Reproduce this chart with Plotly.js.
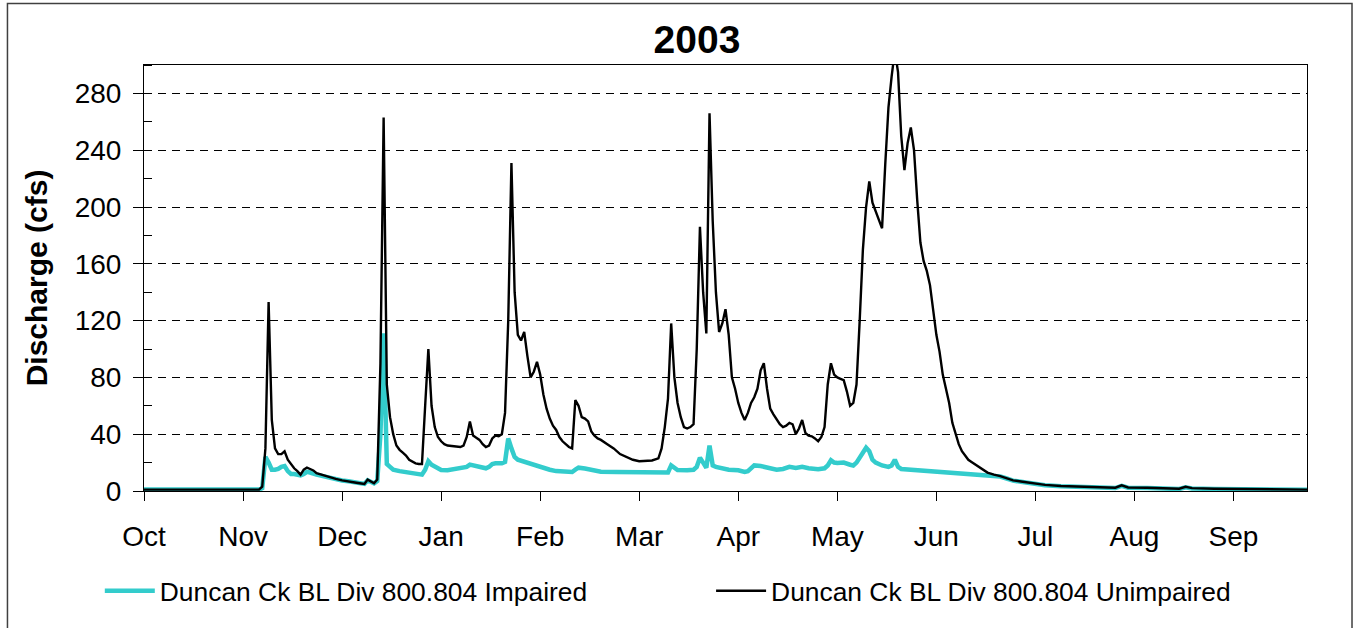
<!DOCTYPE html>
<html>
<head>
<meta charset="utf-8">
<script src="https://cdn.plot.ly/plotly-3.0.1.min.js"></script>
<style>html,body{margin:0;padding:0;background:#fff;}#chart{width:1359px;height:628px;}</style>
</head>
<body>
<div id="chart"></div>
<script>
// Day index from 1 Oct 2002 (0) to 30 Sep 2003 (364)
const unimpDay = [0,10,20,30,36,37,38,39,40,41,42,43,44,45,46,47,48,49,50,51,52,53,54,56,58,60,62,64,66,68,69,70,71,72,73,74,75,76,77,78,79,80,81,82,83,84,85,86,87,88,89,90,91,92,93,94,95,97,99,100,101,102,103,104,105,106,107,108,109,110,111,112,113,114,115,116,117,118,119,120,121,122,123,124,125,126,127,128,129,130,131,132,133,134,135,136,137,138,139,140,141,142,143,145,147,149,151,153,155,157,159,161,162,163,164,165,166,167,168,169,170,171,172,173,174,175,176,177,178,179,180,181,182,183,184,185,186,187,188,189,190,191,192,193,194,195,196,197,198,199,200,201,202,203,204,205,206,207,208,209,210,211,212,213,214,215,216,217,218,219,220,221,222,223,224,225,226,227,228,229,230,231,232,233,234,235,236,237,238,239,240,241,242,243,244,245,246,247,248,249,250,251,252,253,254,255,256,257,258,259,260,261,262,263,264,265,266,268,270,272,275,278,282,287,293,300,304,306,308,314,320,324,326,328,335,345,355,364];
const unimpQ = [1,1,0.8,1,1,3,30,133,50,30,26,26,28,22,19,16,14,11.5,15,16.5,15.5,14.5,12.5,11,9.5,8.5,7.5,7,6,5.3,5,8,7,5.5,8,90,263,75,52,40,32,29,27,25,22,20.5,19.5,19,19,60,100,60,45,38,35,33,32,31.5,31,32,38,49,39,37.5,36,33,31,32,37,39,38.5,40,55,120,231,140,110,106,112,95,80,84,91,82,68,58,51,46,43,38,35,33,31,30,64,60,52,51,49,42,39,37,36,33,30,26,24,22,21,21,21.5,23,30,45,65,118,80,62,52,45,44,45,47,100,186,140,111,266,190,140,112,118,128,110,80,72,62,55,50,55,62,66,72,85,90,72,58,54,50,47,45,46,48,47,40,44,50,41,39,38.5,37,35,38,45,75,90,82,80,79,78,70,60,62,75,120,170,200,218,203,197,190,185,230,270,292,310,295,250,226,245,256,240,205,175,162,155,145,128,110,98,82,72,62,48,40,33,28,25,22,20.5,19,18,16,15,13,12.3,11.5,10.5,9,7.5,6.5,5.5,4.3,3.5,3,2.8,2.3,4,2.5,2.3,1.8,1.6,3,2,1.6,1.4,1.2,1];

const impDay = [0,36,37,38,39,40,41,42,43,44,45,46,47,48,49,50,51,52,53,54,56,58,60,62,64,66,68,69,70,71,72,73,74,75,76,77,78,80,82,84,86,87,88,89,90,91,92,93,95,97,99,101,102,103,104,106,107,108,109,110,112,113,114,115,116,117,119,121,123,125,127,129,132,134,135,136,138,140,143,148,153,159,164,165,166,167,170,172,173,174,175,176,177,178,179,181,183,186,188,189,190,191,193,195,198,200,202,204,206,208,211,213,214,215,216,217,219,221,222,223,224,225,226,227,228,229,231,233,234,235,236,237,240,242,247,252,257,261,264,266,268,270,272,275,278,282,287,293,300,304,306,308,314,320,324,326,328,335,345,355,364];
const impQ = [1,1,2,24,20,15,15,15.5,17,17.5,14,12,12,11.5,11,12,13.5,13,12,11.5,10.5,9.3,8.3,7.4,6.8,6,5.2,5,7.5,6.8,5.3,7,40,111,19,17,15,14,13.5,13,12.5,11.5,15,21,18.5,17,16,14.8,14.6,15.5,16.5,17,18.6,18,17,16.5,16,17,19,19.5,19.5,20.5,37,30,24,22,20.5,19.5,18,16.5,15,14,13.4,13.4,15,16.4,15.8,15,13.6,13.4,13.4,13,13,18,16,14.8,14.6,15,17,23.5,20,16.4,32,18,17,16,15,14.6,13.4,14,16,18,17.6,16.5,15,15.5,17,16.2,17,16,15.3,16,18,21.6,20,19.7,20,18.5,18,20,24,27,30.5,28,22,20,18,17,18,22,17,15.5,15,14.6,13.4,13,12.2,11.5,11,10.8,10.2,8.8,7.3,6.3,5.3,4.1,3.3,2.8,2.6,2.1,3.6,2.3,2.1,1.6,1.4,2.6,1.8,1.4,1.2,1.0,0.9];

const monthLabels = ['Oct','Nov','Dec','Jan','Feb','Mar','Apr','May','Jun','Jul','Aug','Sep'];
const monthTickDays = [0,31,62,93,124,155,186,217,248,279,310,341];
const yTicks = [0,40,80,120,160,200,240,280];
const seriesNames = ['Duncan Ck BL Div 800.804 Impaired','Duncan Ck BL Div 800.804 Unimpaired'];

const FONT = 'Liberation Sans, Arial, sans-serif';

const traces = [
  {x: impDay, y: impQ, name: seriesNames[0], type: 'scatter', mode: 'lines',
   line: {color: '#33CCCC', width: 4.5}, legend: 'legend'},
  {x: unimpDay, y: unimpQ, name: seriesNames[1], type: 'scatter', mode: 'lines',
   line: {color: '#000000', width: 2.4}, legend: 'legend2'}
];

const legendCommon = {orientation: 'h', xanchor: 'left', y: -0.235, yanchor: 'middle',
  font: {family: FONT, size: 26.4, color: '#000'}, itemwidth: 50, bgcolor: 'rgba(0,0,0,0)'};

const layout = {
  width: 1359, height: 628,
  margin: {l: 144, r: 52, t: 65, b: 137},
  paper_bgcolor: '#ffffff', plot_bgcolor: '#ffffff',
  font: {family: FONT, color: '#000'},
  title: {text: '<b>2003</b>', font: {family: FONT, size: 39, color: '#000'},
          x: 0.4755, xref: 'paper', xanchor: 'center', y: 0.938, yref: 'container', yanchor: 'middle'},
  xaxis: {range: [0, 364], tickvals: monthTickDays, ticktext: monthLabels,
          showgrid: false, zeroline: false, showline: true, linecolor: '#000', linewidth: 1, mirror: true,
          ticks: 'outside', ticklen: 9, tickcolor: '#000', tickwidth: 1,
          tickfont: {family: FONT, size: 28, color: '#000'}, ticklabelstandoff: 11, fixedrange: true},
  yaxis: {range: [0, 300], tickvals: yTicks, showgrid: true, gridcolor: '#000', gridwidth: 1, griddash: '8px,6px',
          zeroline: false, showline: true, linecolor: '#000', linewidth: 1, mirror: true,
          ticks: 'outside', ticklen: 10, tickcolor: '#000', tickwidth: 1,
          minor: {dtick: 20, ticks: 'inside', ticklen: 8, tickcolor: '#000', showgrid: false},
          tickfont: {family: FONT, size: 28, color: '#000'}, ticklabelstandoff: 6,
          title: {text: '<b>Discharge (cfs)</b>', font: {family: FONT, size: 30, color: '#000'}, standoff: 18},
          automargin: false, fixedrange: true},
  showlegend: true,
  legend: Object.assign({}, legendCommon, {x: -0.038}),
  legend2: Object.assign({}, legendCommon, {x: 0.4876}),
  shapes: [
    {type: 'rect', xref: 'paper', yref: 'paper', x0: -0.1174, x1: 1.0387, y0: -0.36, y1: 1.1444,
     line: {color: '#404040', width: 1.5}, fillcolor: 'rgba(0,0,0,0)', layer: 'below'}
  ]
};

Plotly.newPlot('chart', traces, layout, {displayModeBar: false, staticPlot: true});
</script>
</body>
</html>
